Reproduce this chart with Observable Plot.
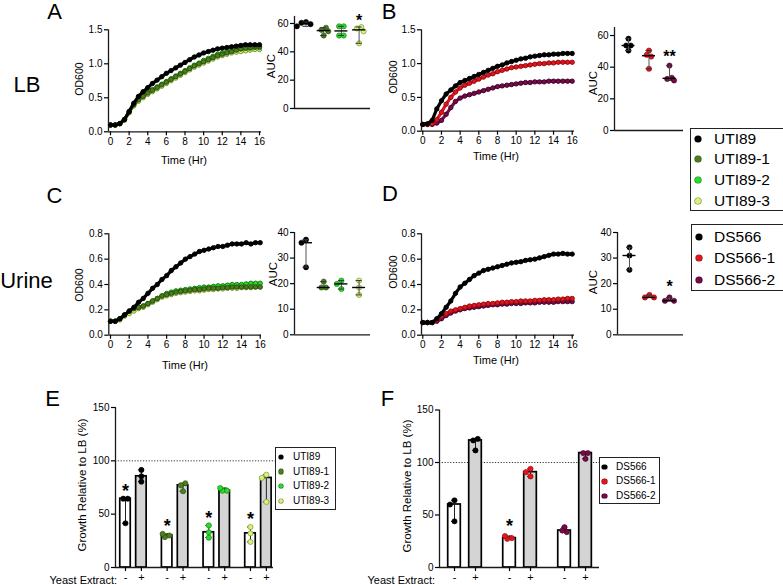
<!DOCTYPE html>
<html><head><meta charset="utf-8">
<script src="https://cdn.jsdelivr.net/npm/d3@7"></script>
<script src="https://cdn.jsdelivr.net/npm/@observablehq/plot@0.6"></script>
<style>
body{margin:0;background:#fff;}
#fig{position:relative;width:783px;height:585px;overflow:hidden;background:#fff;font-family:"Liberation Sans",Arial,Helvetica,sans-serif;color:#000;}
#fig svg{position:absolute;left:0;top:0;}
.lbl{position:absolute;white-space:nowrap;line-height:1;}
.leg{position:absolute;border:1.5px solid #222;box-sizing:border-box;background:#fff;}
.dotm{position:absolute;border-radius:50%;}
</style></head><body><div id="fig"></div>
<script>
// ---------------- data ----------------
const hours = [0,0.5,1,1.5,2,2.5,3,3.5,4,4.5,5,5.5,6,6.5,7,7.5,8,8.5,9,9.5,10,10.5,11,11.5,12,12.5,13,13.5,14,14.5,15,15.5,16];
const timeTicks = [0,2,4,6,8,10,12,14,16];

// LB growth (OD600)
const lbUTI89   = [0.10,0.10,0.12,0.18,0.30,0.42,0.52,0.59,0.65,0.71,0.76,0.81,0.86,0.90,0.94,0.98,1.02,1.06,1.10,1.13,1.16,1.18,1.20,1.22,1.23,1.24,1.25,1.26,1.27,1.28,1.28,1.28,1.28];
const lbUTI89_1 = [0.10,0.10,0.12,0.18,0.29,0.40,0.47,0.52,0.57,0.61,0.65,0.69,0.73,0.77,0.81,0.85,0.89,0.93,0.97,1.00,1.03,1.06,1.09,1.12,1.14,1.16,1.18,1.20,1.22,1.23,1.24,1.25,1.25];
const lbUTI89_2 = [0.10,0.10,0.12,0.18,0.29,0.40,0.48,0.53,0.58,0.62,0.66,0.70,0.74,0.78,0.82,0.86,0.90,0.94,0.98,1.01,1.05,1.08,1.11,1.14,1.16,1.18,1.19,1.21,1.22,1.23,1.23,1.24,1.24];
const lbUTI89_3 = [0.10,0.10,0.12,0.17,0.28,0.38,0.45,0.50,0.55,0.59,0.63,0.67,0.71,0.75,0.79,0.83,0.87,0.91,0.95,0.98,1.01,1.04,1.07,1.10,1.12,1.14,1.16,1.17,1.18,1.19,1.20,1.21,1.21];
const lbDS566   = [0.10,0.11,0.16,0.33,0.45,0.55,0.61,0.67,0.72,0.75,0.78,0.81,0.84,0.87,0.90,0.93,0.96,0.98,1.01,1.03,1.05,1.07,1.08,1.10,1.11,1.12,1.13,1.13,1.14,1.14,1.15,1.15,1.15];
const lbDS566_1 = [0.10,0.10,0.11,0.17,0.28,0.40,0.50,0.58,0.64,0.68,0.71,0.74,0.77,0.80,0.83,0.85,0.88,0.90,0.92,0.94,0.95,0.96,0.97,0.98,0.99,1.00,1.00,1.01,1.01,1.02,1.02,1.02,1.02];
const lbDS566_2 = [0.10,0.10,0.10,0.12,0.16,0.25,0.35,0.44,0.49,0.52,0.54,0.56,0.58,0.60,0.62,0.64,0.66,0.67,0.68,0.69,0.70,0.71,0.72,0.72,0.73,0.73,0.73,0.74,0.74,0.74,0.74,0.74,0.74];
// Urine growth (OD600)
const urUTI89   = [0.11,0.11,0.13,0.16,0.19,0.22,0.26,0.29,0.33,0.37,0.40,0.44,0.47,0.51,0.54,0.57,0.60,0.62,0.64,0.66,0.67,0.68,0.69,0.70,0.70,0.71,0.72,0.72,0.72,0.73,0.72,0.73,0.73];
const urUTI89_1 = [0.11,0.11,0.13,0.16,0.19,0.21,0.22,0.23,0.25,0.27,0.29,0.31,0.32,0.33,0.34,0.345,0.35,0.355,0.36,0.36,0.365,0.37,0.37,0.37,0.375,0.375,0.38,0.38,0.38,0.38,0.38,0.38,0.38];
const urUTI89_2 = [0.11,0.11,0.13,0.16,0.19,0.21,0.22,0.23,0.25,0.27,0.29,0.31,0.33,0.34,0.35,0.355,0.36,0.365,0.37,0.375,0.38,0.38,0.385,0.39,0.39,0.395,0.40,0.40,0.40,0.405,0.41,0.41,0.41];
const urUTI89_3 = [0.11,0.11,0.12,0.15,0.17,0.19,0.21,0.22,0.24,0.26,0.28,0.30,0.31,0.32,0.33,0.335,0.34,0.345,0.35,0.35,0.355,0.36,0.36,0.365,0.365,0.37,0.37,0.37,0.375,0.375,0.375,0.38,0.38];
const urDS566   = [0.10,0.10,0.10,0.13,0.17,0.22,0.27,0.33,0.38,0.41,0.44,0.47,0.49,0.51,0.52,0.53,0.54,0.55,0.56,0.57,0.575,0.58,0.59,0.595,0.60,0.61,0.62,0.63,0.64,0.64,0.645,0.64,0.64];
const urDS566_1 = [0.10,0.10,0.10,0.12,0.15,0.17,0.19,0.20,0.21,0.22,0.23,0.235,0.24,0.245,0.25,0.25,0.255,0.26,0.26,0.265,0.265,0.27,0.27,0.27,0.275,0.275,0.28,0.28,0.28,0.285,0.285,0.29,0.29];
const urDS566_2 = [0.10,0.10,0.10,0.11,0.13,0.155,0.175,0.19,0.20,0.21,0.215,0.22,0.225,0.23,0.235,0.24,0.24,0.245,0.245,0.25,0.25,0.25,0.255,0.255,0.255,0.26,0.26,0.26,0.26,0.265,0.265,0.265,0.265];

const utiNames = ["UTI89","UTI89-1","UTI89-2","UTI89-3"];
const dsNames  = ["DS566","DS566-1","DS566-2"];

// AUC replicates (one array per strain)
const aucLbUti = [[61,60.5,59.5,58],[57,55.5,54.5,51.5],[58,58,51.5,51.5],[57.5,56.5,54.5,46]];
const aucLbUtiSig = ["","","","*"];
const aucLbDs = [[58,53.7,53.7,50.5],[50.5,47.8,46.7,39],[41,33.3,32.6,31.6]];
const aucLbDsSig = ["","","**"];
const aucUrUti = [[37.2,36,26.4],[20.8,18.5,18.5],[21.2,19.9,17.9],[21.2,18.5,15.6]];
const aucUrUtiSig = ["","","",""];
const aucUrDs = [[34.2,31,25.4],[15.6,14.6,14.6],[14.6,13.3,13.3]];
const aucUrDsSig = ["","","*"];

// Growth relative to LB (%), urine without (-) / with (+) yeast extract
const yeastSignsE = ["-","+","-","+","-","+","-","+"];
const relUti = [[64.5,64.5,41.5],[91.5,85.5,80.5],[28.5,31.5,30],[79,77,71.5],[39.5,33,28],[72,74.5,72],[38,32,24],[87,84,61.5]];
const relUtiSig = ["*","","*","","*","","*",""];
const yeastSignsF = ["-","+","-","+","-","+"];
const relDs = [[64,60,44],[122.5,121,111.5],[27.3,30,28],[94,86.7,90.8],[38.4,33.7,35.2],[109,109,103.5]];
const relDsSig = ["","","*","","",""];

// ---------------- styles ----------------
const utiColors = ["#000000","#4b7e1e","#24e024","#d6f27a"];
const utiEdges  = ["#000000","#2a4d0c","#1a6e1a","#6f8a30"];
const dsColors  = ["#000000","#e3141c","#760c46"];
const dsEdges   = ["#000000","#8c0a10","#40002a"];
const AX = "#1a1a1a";
const FONT = "'Liberation Sans', Arial, Helvetica, sans-serif";
const W = 783, H = 585;
const fig = document.getElementById("fig");
const svgStyle = `background: transparent; font-family: ${FONT}; font-size: 10px; overflow: visible; color: #000;`;

function growthPanel(o) {
  const k = 16 / (o.x16 - o.x0);
  const dL = -(o.x0 - o.ax) * k, dR = 16 + (o.xEnd - o.x16) * k;
  const marks = [
    Plot.ruleX([dL], {y1: 0, y2: o.yMax, stroke: AX, strokeWidth: 1.3}),
    Plot.ruleY([0], {x1: dL, x2: dR, stroke: AX, strokeWidth: 1.3}),
    Plot.axisY({ticks: o.yTicks, tickFormat: d3.format(".1f"), tickSize: 4, tickPadding: 2, label: null, strokeWidth: 1.2}),
    Plot.axisX({ticks: timeTicks, tickFormat: d3.format("d"), tickSize: 4, tickPadding: 2, label: null, strokeWidth: 1.2})
  ];
  for (const s of o.series) {
    const rows = hours.map((t, i) => ({t, v: s.values[i]}));
    marks.push(Plot.line(rows, {x: "t", y: "v", stroke: s.color, strokeWidth: 3.2, curve: "linear"}));
    marks.push(Plot.dot(rows, {x: "t", y: "v", r: 2.2, fill: s.color, stroke: s.edge, strokeWidth: 0.9}));
  }
  return Plot.plot({
    width: W, height: H,
    marginLeft: o.ax, marginRight: W - o.xEnd, marginTop: o.yTop, marginBottom: H - o.yBase,
    x: {type: "linear", domain: [dL, dR], label: null},
    y: {type: "linear", domain: [0, o.yMax], label: null},
    style: svgStyle,
    marks
  });
}

function dodgeOffsets(vals, kY, r) {
  const placed = [];
  const step = r * 1.75, minD = r * 1.65;
  const offs = vals.map(v => {
    const py = v * kY;
    for (let k = 0; k < 40; k++) {
      const off = k === 0 ? 0 : (k % 2 ? -1 : 1) * Math.ceil(k / 2) * step;
      if (placed.every(p => Math.hypot(p.x - off, p.y - py) >= minD)) { placed.push({x: off, y: py}); return off; }
    }
    return 0;
  });
  // center rows of side-by-side points
  const used = new Array(offs.length).fill(false);
  for (let i = 0; i < offs.length; i++) {
    if (used[i]) continue;
    const grp = [];
    for (let j = 0; j < offs.length; j++) if (!used[j] && Math.abs(vals[j] - vals[i]) * kY < minD * 0.6) grp.push(j);
    grp.forEach(j => used[j] = true);
    if (grp.length > 1) { const m = d3.mean(grp, j => offs[j]); grp.forEach(j => offs[j] -= m); }
  }
  return offs;
}

function aucPanel(o) {
  const dL = -(o.c0 - o.ax) / o.step, dR = (o.xEnd - o.c0) / o.step;
  const kY = (o.yBase - o.yTop) / o.yMax;
  const R = 2.6;
  const stats = o.groups.map((vals, i) => ({i, med: d3.median(vals), lo: d3.min(vals), hi: d3.max(vals), sig: o.sig[i]}));
  const pts = o.groups.flatMap((vals, i) => {
    const off = dodgeOffsets(vals, kY, R);
    return vals.map((v, j) => ({x: i + off[j] / o.step, v, c: o.colors[i], e: o.edges[i]}));
  });
  const caps = stats.flatMap(s => [{i: s.i, y: s.lo}, {i: s.i, y: s.hi}]);
  const capH = 3 / o.step, medH = 6.5 / o.step;
  return Plot.plot({
    width: W, height: H,
    marginLeft: o.ax, marginRight: W - o.xEnd, marginTop: o.yTop, marginBottom: H - o.yBase,
    x: {type: "linear", domain: [dL, dR], axis: null},
    y: {type: "linear", domain: [0, o.yMax], label: null},
    color: {type: "identity"},
    style: svgStyle,
    marks: [
      Plot.ruleX([dL], {y1: 0, y2: o.yMax, stroke: AX, strokeWidth: 1.3}),
      Plot.ruleY([0], {x1: dL, x2: dR, stroke: AX, strokeWidth: 1.3}),
      Plot.axisY({ticks: o.yTicks, tickFormat: d3.format("d"), tickSize: 4, tickPadding: 2, label: null, strokeWidth: 1.2}),
      Plot.dot(pts, {x: "x", y: "v", r: R, fill: "c", stroke: "e", strokeWidth: 0.6}),
      Plot.ruleX(stats, {x: "i", y1: "lo", y2: "hi", stroke: "#555", strokeWidth: 1}),
      Plot.ruleY(caps, {y: "y", x1: d => d.i - capH, x2: d => d.i + capH, stroke: "#333", strokeWidth: 1}),
      Plot.ruleY(stats, {y: "med", x1: d => d.i - medH, x2: d => d.i + medH, stroke: "#000", strokeWidth: 1.4}),
      Plot.text(stats.filter(s => s.sig), {x: "i", y: "hi", text: "sig", lineAnchor: "bottom", dy: o.sigDy, fontSize: 16, fontWeight: "bold", fill: "#000"})
    ]
  });
}

function barPanel(o) {
  const dL = -(o.p0 - o.ax) / o.unit, dR = (o.xEnd - o.p0) / o.unit;
  const kY = (o.yBase - o.yTop) / 150;
  const R = 2.6;
  const pos = o.reps.map((_, i) => Math.floor(i / 2) * o.groupStep + (i % 2));
  const stats = o.reps.map((vals, i) => ({i, p: pos[i], plus: i % 2 === 1, med: d3.median(vals), lo: d3.min(vals), hi: d3.max(vals), sig: o.sig[i]}));
  const pts = o.reps.flatMap((vals, i) => {
    const off = dodgeOffsets(vals, kY, R);
    return vals.map((v, j) => ({x: pos[i] + off[j] / o.unit, v, c: o.colors[Math.floor(i / 2)], e: o.edges[Math.floor(i / 2)]}));
  });
  const caps = stats.flatMap(s => [{p: s.p, y: s.lo}, {p: s.p, y: s.hi}]);
  const capH = 3 / o.unit, bw = o.barW / 2;
  return Plot.plot({
    width: W, height: H,
    marginLeft: o.ax, marginRight: W - o.xEnd, marginTop: o.yTop, marginBottom: H - o.yBase,
    x: {type: "linear", domain: [dL, dR], label: null},
    y: {type: "linear", domain: [0, 150], label: null},
    color: {type: "identity"},
    style: svgStyle,
    marks: [
      Plot.ruleY([100], {x1: dL, x2: dR + 2 / o.unit, stroke: "#333", strokeWidth: 1, strokeDasharray: "1.2,1.6"}),
      Plot.rect(stats, {x1: d => d.p - bw, x2: d => d.p + bw, y1: 0, y2: "med", fill: d => d.plus ? "#d4d4d4" : "#ffffff", stroke: "#000", strokeWidth: 1.7}),
      Plot.ruleX(stats, {x: "p", y1: "lo", y2: "hi", stroke: "#222", strokeWidth: 1}),
      Plot.ruleY(caps, {y: "y", x1: d => d.p - capH, x2: d => d.p + capH, stroke: "#222", strokeWidth: 1}),
      Plot.dot(pts, {x: "x", y: "v", r: R, fill: "c", stroke: "e", strokeWidth: 0.6}),
      Plot.text(stats.filter(s => s.sig), {x: "p", y: "hi", text: "sig", lineAnchor: "bottom", dy: o.sigDy, fontSize: 18, fontWeight: "bold", fill: "#000"}),
      Plot.ruleX([dL], {y1: 0, y2: 150, stroke: AX, strokeWidth: 1.3}),
      Plot.ruleY([0], {x1: dL, x2: dR, stroke: AX, strokeWidth: 1.3}),
      Plot.axisY({ticks: [0, 50, 100, 150], tickFormat: d3.format("d"), tickSize: 4, tickPadding: 2, label: null, strokeWidth: 1.2}),
      Plot.axisX({ticks: pos, tickFormat: (d, i) => o.signs[i], tickSize: 4, tickPadding: 2, label: null, fontSize: 11, strokeWidth: 1.2})
    ]
  });
}

const mk = (names, vals, colors, edges, order) => order.map(i => ({values: vals[i], color: colors[i], edge: edges[i]}));

// Panel A, B (LB growth)
fig.appendChild(growthPanel({series: mk(utiNames, [lbUTI89, lbUTI89_1, lbUTI89_2, lbUTI89_3], utiColors, utiEdges, [3, 2, 1, 0]),
  ax: 108, x0: 110, x16: 259, xEnd: 261, yBase: 131.3, yTop: 29.3, yMax: 1.5, yTicks: [0, 0.5, 1, 1.5]}));
fig.appendChild(growthPanel({series: mk(dsNames, [lbDS566, lbDS566_1, lbDS566_2], dsColors, dsEdges, [2, 1, 0]),
  ax: 421, x0: 422.3, x16: 571.7, xEnd: 574, yBase: 130.7, yTop: 29.3, yMax: 1.5, yTicks: [0, 0.5, 1, 1.5]}));
// Panel C, D (urine growth)
fig.appendChild(growthPanel({series: mk(utiNames, [urUTI89, urUTI89_1, urUTI89_2, urUTI89_3], utiColors, utiEdges, [3, 2, 1, 0]),
  ax: 108.3, x0: 110, x16: 259.7, xEnd: 261, yBase: 334.7, yTop: 233.3, yMax: 0.8, yTicks: [0, 0.2, 0.4, 0.6, 0.8]}));
fig.appendChild(growthPanel({series: mk(dsNames, [urDS566, urDS566_1, urDS566_2], dsColors, dsEdges, [2, 1, 0]),
  ax: 421, x0: 422.3, x16: 571.7, xEnd: 574, yBase: 334.7, yTop: 233.3, yMax: 0.8, yTicks: [0, 0.2, 0.4, 0.6, 0.8]}));

// AUC panels
fig.appendChild(aucPanel({groups: aucLbUti, sig: aucLbUtiSig, colors: utiColors, edges: utiEdges,
  ax: 294, c0: 305.5, step: 17.7, xEnd: 370, yBase: 108, yTop: 15.9, yMax: 65, yTicks: [0, 20, 40, 60], sigDy: -1}));
fig.appendChild(aucPanel({groups: aucLbDs, sig: aucLbDsSig, colors: dsColors, edges: dsEdges,
  ax: 614, c0: 628, step: 20.5, xEnd: 683, yBase: 130, yTop: 27.1, yMax: 65, yTicks: [0, 20, 40, 60], sigDy: -4}));
fig.appendChild(aucPanel({groups: aucUrUti, sig: aucUrUtiSig, colors: utiColors, edges: utiEdges,
  ax: 294, c0: 305.5, step: 17.7, xEnd: 370, yBase: 334.3, yTop: 232, yMax: 40, yTicks: [0, 10, 20, 30, 40], sigDy: -3}));
fig.appendChild(aucPanel({groups: aucUrDs, sig: aucUrDsSig, colors: dsColors, edges: dsEdges,
  ax: 617, c0: 629, step: 20, xEnd: 683, yBase: 334.3, yTop: 232, yMax: 40, yTicks: [0, 10, 20, 30, 40], sigDy: -5}));

// Bar panels E, F
fig.appendChild(barPanel({reps: relUti, sig: relUtiSig, signs: yeastSignsE, colors: utiColors, edges: utiEdges,
  ax: 115, p0: 125, unit: 15.9, groupStep: 2.62, xEnd: 273, yBase: 567, yTop: 407, barW: 0.66, sigDy: -1.5}));
fig.appendChild(barPanel({reps: relDs, sig: relDsSig, signs: yeastSignsF, colors: dsColors, edges: dsEdges,
  ax: 439, p0: 454, unit: 21, groupStep: 2.62, xEnd: 599, yBase: 567, yTop: 409.5, barW: 0.6, sigDy: -4.5}));

// ---------------- text labels ----------------
function label(t, x, y, fs, opts = {}) {
  const d = document.createElement("div");
  d.className = "lbl";
  d.textContent = t;
  d.style.fontSize = fs + "px";
  d.style.left = x + "px";
  d.style.top = y + "px";
  const tx = opts.anchor === "end" ? "-100%" : opts.anchor === "start" ? "0" : "-50%";
  d.style.transform = `translate(${tx},-50%)` + (opts.rotate ? " rotate(-90deg)" : "");
  fig.appendChild(d);
}
[["A",54.5,11.5],["B",389,11.5],["C",54.5,195.5],["D",390,193.5],["E",52.5,398.5],["F",387.5,398.5],["LB",27,85],["Urine",26.5,280.5]]
  .forEach(([t,x,y]) => label(t, x, y, 22));
[[184,160],[496,155.5],[185,365],[496,360]].forEach(([x,y]) => label("Time (Hr)", x, y, 11));
[[79,78.5],[393,77],[79,285],[393,272]].forEach(([x,y]) => label("OD600", x, y, 10.5, {rotate: true}));
[[272,66],[594,83],[273.5,274],[594,281.5]].forEach(([x,y]) => label("AUC", x, y, 11.5, {rotate: true}));
[[83,485],[408,486]].forEach(([x,y]) => label("Growth Relative to LB (%)", x, y, 11.5, {rotate: true}));
[[117,580],[435,580]].forEach(([x,y]) => label("Yeast Extract:", x, y, 11, {anchor: "end"}));

// ---------------- legends ----------------
function legend(names, colors, edges, o) {
  const box = document.createElement("div");
  box.className = "leg";
  Object.assign(box.style, {left: o.left + "px", top: o.top + "px", width: o.width + "px", height: o.height + "px"});
  fig.appendChild(box);
  names.forEach((n, i) => {
    const cy = o.rowTop + i * o.rowStep;
    const m = document.createElement("div");
    m.className = "dotm";
    Object.assign(m.style, {left: (o.markX - o.r) + "px", top: (cy - o.r) + "px", width: 2 * o.r + "px", height: 2 * o.r + "px", background: colors[i], boxShadow: `0 0 0 0.6px ${edges[i]}`});
    fig.appendChild(m);
    label(n, o.textX, cy, o.fs, {anchor: "start"});
  });
}
legend(utiNames, utiColors, utiEdges, {left: 690, top: 128, width: 100, height: 83, rowTop: 138.5, rowStep: 20.7, markX: 698, textX: 714, fs: 15.5, r: 3});
legend(dsNames, dsColors, dsEdges, {left: 691, top: 224, width: 100, height: 67, rowTop: 237, rowStep: 21.3, markX: 698.5, textX: 714, fs: 15.5, r: 3});
legend(utiNames, utiColors, utiEdges, {left: 275, top: 447, width: 61, height: 63, rowTop: 457, rowStep: 14.6, markX: 281, textX: 293, fs: 10, r: 2.2});
legend(dsNames, dsColors, dsEdges, {left: 599, top: 457, width: 61, height: 47, rowTop: 467, rowStep: 14.4, markX: 604.5, textX: 616, fs: 10, r: 2.2});
</script></body></html>
